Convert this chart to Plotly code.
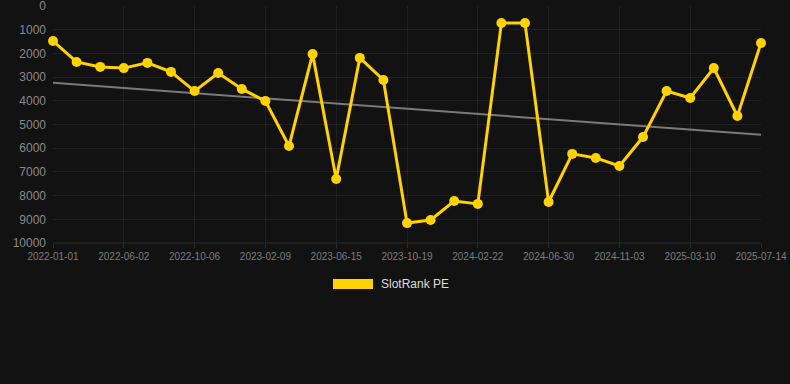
import numpy as np
import plotly.graph_objects as go

# Data
tick_labels = ["2022-01-01", "2022-06-02", "2022-10-06", "2023-02-09", "2023-06-15",
               "2023-10-19", "2024-02-22", "2024-06-30", "2024-11-03", "2025-03-10", "2025-07-14"]
rank_values = [1480, 2360, 2570, 2620, 2400, 2780, 3590, 2830, 3500, 4010,
               5910, 2030, 7300, 2190, 3120, 9160, 9030, 8230, 8350, 720,
               720, 8270, 6240, 6410, 6750, 5530, 3590, 3880, 2620, 4640, 1560]
series_name = "SlotRank PE"

idx = np.arange(len(rank_values))
slope, intercept = np.polyfit(idx, rank_values, 1)
trend = slope * idx + intercept

BG = "#121212"
GOLD = "#ffd200"
GRID = "rgba(255,255,255,0.06)"

fig = go.Figure()
fig.add_trace(go.Scatter(x=[idx[0], idx[-1]], y=[trend[0], trend[-1]], mode="lines",
                         line=dict(color="#7a7a7a", width=2), showlegend=False,
                         hoverinfo="skip", cliponaxis=False))
fig.add_trace(go.Scatter(x=idx, y=rank_values, mode="lines+markers", name=series_name,
                         line=dict(color=GOLD, width=3),
                         marker=dict(color=GOLD, size=10),
                         showlegend=False, cliponaxis=False))

tickvals = list(range(0, len(rank_values), 3))
fig.update_layout(
    width=790, height=384,
    paper_bgcolor=BG, plot_bgcolor=BG,
    margin=dict(l=53, r=29, t=6, b=141),
    font=dict(family="Arial, Liberation Sans, sans-serif", color="#888"),
    xaxis=dict(range=[0, len(rank_values) - 1], tickvals=tickvals, ticktext=tick_labels,
               showgrid=True, gridcolor=GRID, zeroline=False, showline=False,
               tickfont=dict(size=10, color="#7d7d7d"), ticks="outside", ticklen=4,
               tickcolor="rgba(255,255,255,0.1)", ticklabeloverflow="allow",
               automargin=False),
    yaxis=dict(range=[10000, 0], tickvals=list(range(0, 10001, 1000)), tickformat="d",
               showgrid=True, gridcolor=GRID, zeroline=False, showline=False,
               tickfont=dict(size=12, color="#8a8a8a"), ticks="", ticklabelstandoff=6,
               ticklabeloverflow="allow", automargin=False),
    showlegend=False,
)
fig.add_shape(type="line", xref="paper", yref="paper", x0=0, x1=1, y0=0, y1=0,
              line=dict(color="rgba(255,255,255,0.12)", width=1))
# legend drawn manually (rectangle swatch)
fig.add_shape(type="rect", xref="paper", yref="paper",
              x0=(333 - 53) / 708, x1=(373 - 53) / 708,
              y0=(243 - 289) / 237, y1=(243 - 279) / 237,
              fillcolor=GOLD, line=dict(width=0))
fig.add_annotation(xref="paper", yref="paper", x=(379 - 53) / 708, y=(243 - 284) / 237,
                   text=series_name, showarrow=False, xanchor="left", yanchor="middle",
                   font=dict(size=12, color="#dddddd"))

fig.write_html("out.html", config={"displayModeBar": False},
               post_script="document.body.style.margin='0';document.body.style.background='#121212';")
